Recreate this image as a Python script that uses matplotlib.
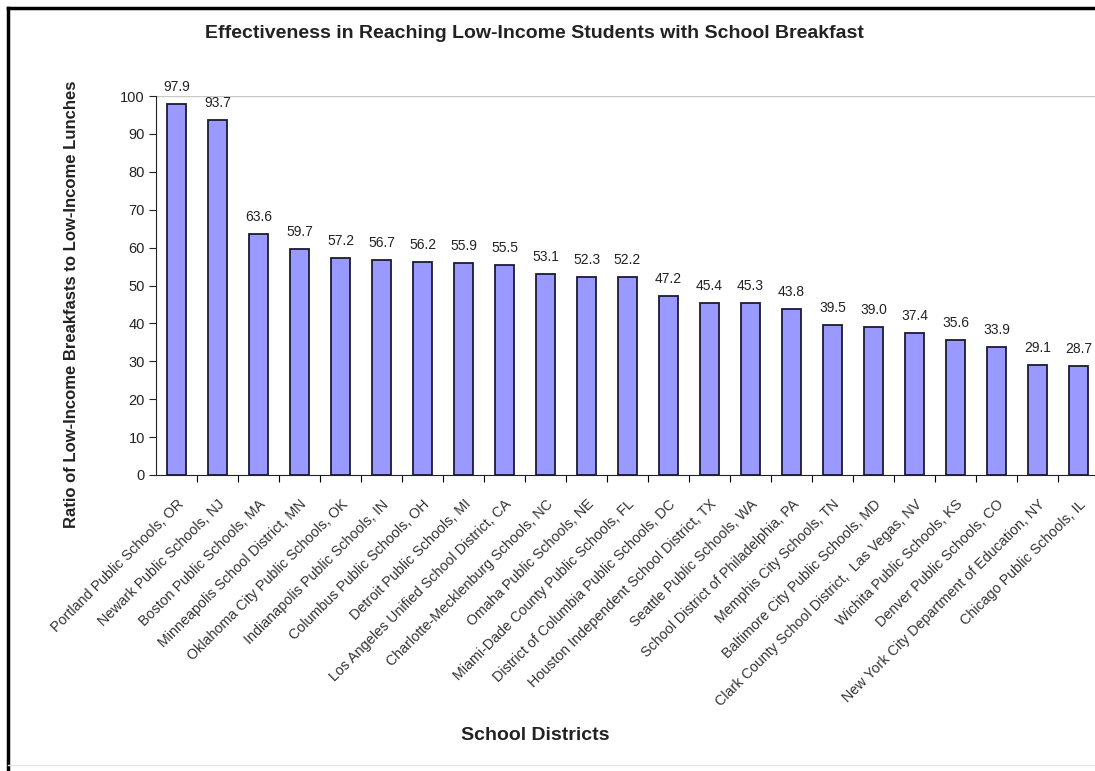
import matplotlib.pyplot as plt
from matplotlib.lines import Line2D

plt.rcParams['font.family'] = ['Liberation Sans', 'DejaVu Sans']

districts = [
    "Portland Public Schools, OR",
    "Newark Public Schools, NJ",
    "Boston Public Schools, MA",
    "Minneapolis School District, MN",
    "Oklahoma City Public Schools, OK",
    "Indianapolis Public Schools, IN",
    "Columbus Public Schools, OH",
    "Detroit Public Schools, MI",
    "Los Angeles Unified School District, CA",
    "Charlotte-Mecklenburg Schools, NC",
    "Omaha Public Schools, NE",
    "Miami-Dade County Public Schools, FL",
    "District of Columbia Public Schools, DC",
    "Houston Independent School District, TX",
    "Seattle Public Schools, WA",
    "School District of Philadelphia, PA",
    "Memphis City Schools, TN",
    "Baltimore City Public Schools, MD",
    "Clark County School District,  Las Vegas, NV",
    "Wichita Public Schools, KS",
    "Denver Public Schools, CO",
    "New York City Department of Education, NY",
    "Chicago Public Schools, IL",
]
ratios = [97.9, 93.7, 63.6, 59.7, 57.2, 56.7, 56.2, 55.9, 55.5, 53.1, 52.3, 52.2,
          47.2, 45.4, 45.3, 43.8, 39.5, 39.0, 37.4, 35.6, 33.9, 29.1, 28.7]

W, H = 1095, 771
fig = plt.figure(figsize=(W / 100, H / 100), dpi=100)
ax = fig.add_axes([156 / W, 1 - 475 / H, (W - 156) / W, (475 - 96) / H])

x = list(range(len(districts)))
ax.bar(x, ratios, width=0.45, color="#9999ff", edgecolor="#1a1a33", linewidth=1.3)
for xi, v in zip(x, ratios):
    ax.text(xi, v + 2.6, f"{v:.1f}", ha="center", va="bottom", fontsize=10, color="#222222")

ax.set_ylim(0, 100)
ax.set_xlim(-0.5, 22.4)
ax.set_yticks(range(0, 101, 10))
ax.tick_params(axis="y", labelsize=10.5, length=5, direction="out", pad=3, colors="#222222")

# ticks between categories, labels under each bar
ax.set_xticks([i + 0.5 for i in range(len(districts) - 1)])
ax.set_xticklabels([])
ax.tick_params(axis="x", length=5, direction="out")
ax.set_xticks(x, minor=True)
ax.set_xticklabels(districts, minor=True, rotation=45, ha="right", va="top",
                   rotation_mode="anchor", fontsize=10.3, color="#333333")
ax.tick_params(axis="x", which="minor", length=0, pad=16)

for s in ["right", "top"]:
    ax.spines[s].set_visible(False)
ax.spines["left"].set_color("#222222")
ax.spines["bottom"].set_color("#222222")
ax.axhline(100, color="#c8c8c8", linewidth=1)

fig.text(534 / W, 1 - 33 / H, "Effectiveness in Reaching Low-Income Students with School Breakfast",
         ha="center", va="center", fontsize=14, fontweight="bold", color="#222222")
fig.text(72 / W, 1 - 304 / H, "Ratio of Low-Income Breakfasts to Low-Income Lunches",
         ha="center", va="center", rotation=90, fontsize=12, fontweight="bold", color="#222222")
fig.text(535 / W, 1 - 735 / H, "School Districts", ha="center", va="center",
         fontsize=14, fontweight="bold", color="#222222")

# outer frame: black top and left, faint bottom
fig.add_artist(Line2D([8 / W, 8 / W], [0, 1 - 8 / H], color="black", linewidth=2.5))
fig.add_artist(Line2D([8 / W, 1], [1 - 8 / H, 1 - 8 / H], color="black", linewidth=2.5))
fig.add_artist(Line2D([8 / W, 1], [1 - 765 / H, 1 - 765 / H], color="#e6e6e6", linewidth=1))

fig.savefig("out.png", dpi=100)
